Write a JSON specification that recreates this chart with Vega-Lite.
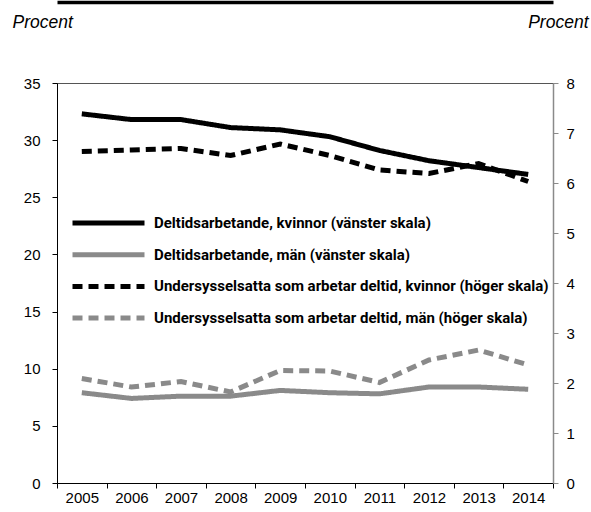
{
  "$schema": "https://vega.github.io/schema/vega-lite/v6.json",
  "width": 496,
  "height": 400,
  "autosize": {"type": "none"},
  "padding": {"left": 57, "top": 83, "right": 38, "bottom": 29},
  "background": "white",
  "config": {
    "view": {"stroke": "#555", "strokeWidth": 1},
    "axis": {
      "grid": false,
      "labelFont": "Liberation Sans",
      "labelFontSize": 15,
      "labelColor": "#000",
      "tickColor": "#000",
      "domainColor": "#000",
      "tickSize": 5
    }
  },
  "data": {
    "values": [
      {"year": "2005", "series": "Deltidsarbetande, kvinnor (vänster skala)", "axis": "left", "value": 32.3},
      {"year": "2006", "series": "Deltidsarbetande, kvinnor (vänster skala)", "axis": "left", "value": 31.8},
      {"year": "2007", "series": "Deltidsarbetande, kvinnor (vänster skala)", "axis": "left", "value": 31.8},
      {"year": "2008", "series": "Deltidsarbetande, kvinnor (vänster skala)", "axis": "left", "value": 31.1},
      {"year": "2009", "series": "Deltidsarbetande, kvinnor (vänster skala)", "axis": "left", "value": 30.9},
      {"year": "2010", "series": "Deltidsarbetande, kvinnor (vänster skala)", "axis": "left", "value": 30.3},
      {"year": "2011", "series": "Deltidsarbetande, kvinnor (vänster skala)", "axis": "left", "value": 29.1},
      {"year": "2012", "series": "Deltidsarbetande, kvinnor (vänster skala)", "axis": "left", "value": 28.2},
      {"year": "2013", "series": "Deltidsarbetande, kvinnor (vänster skala)", "axis": "left", "value": 27.6},
      {"year": "2014", "series": "Deltidsarbetande, kvinnor (vänster skala)", "axis": "left", "value": 27.0},
      {"year": "2005", "series": "Deltidsarbetande, män (vänster skala)", "axis": "left", "value": 7.9},
      {"year": "2006", "series": "Deltidsarbetande, män (vänster skala)", "axis": "left", "value": 7.4},
      {"year": "2007", "series": "Deltidsarbetande, män (vänster skala)", "axis": "left", "value": 7.6},
      {"year": "2008", "series": "Deltidsarbetande, män (vänster skala)", "axis": "left", "value": 7.6},
      {"year": "2009", "series": "Deltidsarbetande, män (vänster skala)", "axis": "left", "value": 8.1},
      {"year": "2010", "series": "Deltidsarbetande, män (vänster skala)", "axis": "left", "value": 7.9},
      {"year": "2011", "series": "Deltidsarbetande, män (vänster skala)", "axis": "left", "value": 7.8},
      {"year": "2012", "series": "Deltidsarbetande, män (vänster skala)", "axis": "left", "value": 8.4},
      {"year": "2013", "series": "Deltidsarbetande, män (vänster skala)", "axis": "left", "value": 8.4},
      {"year": "2014", "series": "Deltidsarbetande, män (vänster skala)", "axis": "left", "value": 8.2},
      {"year": "2005", "series": "Undersysselsatta som arbetar deltid, kvinnor (höger skala)", "axis": "right", "value": 6.63},
      {"year": "2006", "series": "Undersysselsatta som arbetar deltid, kvinnor (höger skala)", "axis": "right", "value": 6.66},
      {"year": "2007", "series": "Undersysselsatta som arbetar deltid, kvinnor (höger skala)", "axis": "right", "value": 6.69},
      {"year": "2008", "series": "Undersysselsatta som arbetar deltid, kvinnor (höger skala)", "axis": "right", "value": 6.55},
      {"year": "2009", "series": "Undersysselsatta som arbetar deltid, kvinnor (höger skala)", "axis": "right", "value": 6.78},
      {"year": "2010", "series": "Undersysselsatta som arbetar deltid, kvinnor (höger skala)", "axis": "right", "value": 6.55},
      {"year": "2011", "series": "Undersysselsatta som arbetar deltid, kvinnor (höger skala)", "axis": "right", "value": 6.26},
      {"year": "2012", "series": "Undersysselsatta som arbetar deltid, kvinnor (höger skala)", "axis": "right", "value": 6.19},
      {"year": "2013", "series": "Undersysselsatta som arbetar deltid, kvinnor (höger skala)", "axis": "right", "value": 6.39},
      {"year": "2014", "series": "Undersysselsatta som arbetar deltid, kvinnor (höger skala)", "axis": "right", "value": 6.03},
      {"year": "2005", "series": "Undersysselsatta som arbetar deltid, män (höger skala)", "axis": "right", "value": 2.09},
      {"year": "2006", "series": "Undersysselsatta som arbetar deltid, män (höger skala)", "axis": "right", "value": 1.92},
      {"year": "2007", "series": "Undersysselsatta som arbetar deltid, män (höger skala)", "axis": "right", "value": 2.03},
      {"year": "2008", "series": "Undersysselsatta som arbetar deltid, män (höger skala)", "axis": "right", "value": 1.82},
      {"year": "2009", "series": "Undersysselsatta som arbetar deltid, män (höger skala)", "axis": "right", "value": 2.25},
      {"year": "2010", "series": "Undersysselsatta som arbetar deltid, män (höger skala)", "axis": "right", "value": 2.24},
      {"year": "2011", "series": "Undersysselsatta som arbetar deltid, män (höger skala)", "axis": "right", "value": 2.01},
      {"year": "2012", "series": "Undersysselsatta som arbetar deltid, män (höger skala)", "axis": "right", "value": 2.46},
      {"year": "2013", "series": "Undersysselsatta som arbetar deltid, män (höger skala)", "axis": "right", "value": 2.66},
      {"year": "2014", "series": "Undersysselsatta som arbetar deltid, män (höger skala)", "axis": "right", "value": 2.36}
    ]
  },
  "encoding": {
    "color": {
      "field": "series",
      "type": "nominal",
      "scale": {
        "domain": ["Deltidsarbetande, kvinnor (vänster skala)", "Deltidsarbetande, män (vänster skala)", "Undersysselsatta som arbetar deltid, kvinnor (höger skala)", "Undersysselsatta som arbetar deltid, män (höger skala)"],
        "range": ["#000000", "#8a8a8a", "#000000", "#8a8a8a"]
      },
      "legend": {
        "title": null,
        "orient": "none",
        "legendX": 13,
        "legendY": 125,
        "symbolType": "stroke",
        "symbolSize": 5184,
        "clipHeight": 30,
        "rowPadding": 1.7,
        "labelFont": "Roboto",
        "labelFontWeight": "bold",
        "labelFontSize": 15,
        "labelColor": "#000",
        "labelOffset": 7,
        "labelLimit": 500
      }
    },
    "strokeDash": {
      "field": "series",
      "type": "nominal",
      "scale": {
        "domain": ["Deltidsarbetande, kvinnor (vänster skala)", "Deltidsarbetande, män (vänster skala)", "Undersysselsatta som arbetar deltid, kvinnor (höger skala)", "Undersysselsatta som arbetar deltid, män (höger skala)"],
        "range": [[1, 0], [1, 0], [10, 6], [10, 6]]
      }
    },
    "strokeWidth": {
      "field": "series",
      "type": "nominal",
      "scale": {
        "domain": ["Deltidsarbetande, kvinnor (vänster skala)", "Deltidsarbetande, män (vänster skala)", "Undersysselsatta som arbetar deltid, kvinnor (höger skala)", "Undersysselsatta som arbetar deltid, män (höger skala)"],
        "range": [5, 5, 3, 3]
      }
    }
  },
  "layer": [
    {
      "transform": [{"filter": "datum.axis === 'left'"}],
      "mark": {"type": "line"},
      "encoding": {
        "x": {
          "field": "year", "type": "ordinal", "bandPosition": 0.5,
          "scale": {"type": "band", "paddingInner": 0, "paddingOuter": 0},
          "axis": {"title": null, "tickBand": "extent", "labelAngle": 0, "labelPadding": 2, "orient": "bottom"}
        },
        "y": {
          "field": "value", "type": "quantitative",
          "scale": {"domain": [0, 35], "nice": false, "zero": true},
          "axis": {
            "values": [0, 5, 10, 15, 20, 25, 30, 35],
            "labelPadding": 12,
            "title": "Procent",
            "titleAngle": 0,
            "titleX": -45,
            "titleY": -55.5,
            "titleAlign": "left",
            "titleBaseline": "alphabetic",
            "titleFont": "Liberation Sans",
            "titleFontStyle": "italic",
            "titleFontWeight": "normal",
            "titleFontSize": 17.5,
            "titleColor": "#000"
          }
        }
      }
    },
    {
      "transform": [{"filter": "datum.axis === 'right'"}],
      "mark": {"type": "line"},
      "encoding": {
        "x": {
          "field": "year", "type": "ordinal", "bandPosition": 0.5,
          "axis": {"title": null, "orient": "top", "offset": 81, "domainWidth": 3.5, "domainColor": "#000", "labels": false, "ticks": false}
        },
        "y": {
          "field": "value", "type": "quantitative",
          "scale": {"domain": [0, 8], "nice": false, "zero": true},
          "axis": {
            "orient": "right",
            "values": [0, 1, 2, 3, 4, 5, 6, 7, 8],
            "domainColor": "#8a8a8a",
            "domainWidth": 1.5,
            "tickColor": "#8a8a8a",
            "labelPadding": 8,
            "title": "Procent",
            "titleAngle": 0,
            "titleX": 35,
            "titleY": -55.5,
            "titleAlign": "right",
            "titleBaseline": "alphabetic",
            "titleFont": "Liberation Sans",
            "titleFontStyle": "italic",
            "titleFontWeight": "normal",
            "titleFontSize": 17.5,
            "titleColor": "#000"
          }
        }
      }
    }
  ],
  "resolve": {"scale": {"y": "independent"}, "axis": {"x": "independent"}}
}
